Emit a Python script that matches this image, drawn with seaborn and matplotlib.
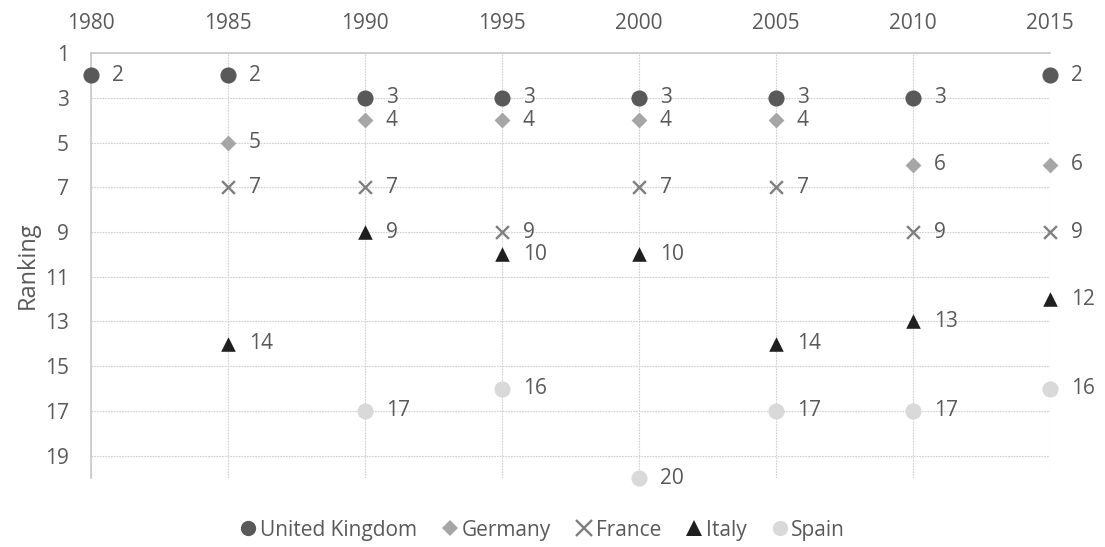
import matplotlib
matplotlib.use("Agg")
import matplotlib.pyplot as plt
import pandas as pd
import seaborn as sns
from matplotlib.lines import Line2D

# data (lower rank = better)
years_uk = [1980, 1985, 1990, 1995, 2000, 2005, 2010, 2015]
rank_uk = [2, 2, 3, 3, 3, 3, 3, 2]
years_de = [1985, 1990, 1995, 2000, 2005, 2010, 2015]
rank_de = [5, 4, 4, 4, 4, 6, 6]
years_fr = [1985, 1990, 1995, 2000, 2005, 2010, 2015]
rank_fr = [7, 7, 9, 7, 7, 9, 9]
years_it = [1985, 1990, 1995, 2000, 2005, 2010, 2015]
rank_it = [14, 9, 10, 10, 14, 13, 12]
years_es = [1990, 1995, 2000, 2005, 2010, 2015]
rank_es = [17, 16, 20, 17, 17, 16]

countries = ["United Kingdom", "Germany", "France", "Italy", "Spain"]
year_ticks = [1980, 1985, 1990, 1995, 2000, 2005, 2010, 2015]
rank_ticks = [1, 3, 5, 7, 9, 11, 13, 15, 17, 19]

colors = {"United Kingdom": "#595959", "Germany": "#a6a6a6", "France": "#7f7f7f",
          "Italy": "#1f1f1f", "Spain": "#d9d9d9"}
markers = {"United Kingdom": "o", "Germany": "D", "France": "x", "Italy": "^", "Spain": "o"}
sizes = {"United Kingdom": 135, "Germany": 65, "France": 85, "Italy": 110, "Spain": 135}

frames = []
for name, yrs, rk in zip(countries,
                         [years_uk, years_de, years_fr, years_it, years_es],
                         [rank_uk, rank_de, rank_fr, rank_it, rank_es]):
    frames.append(pd.DataFrame({"Year": yrs, "Rank": rk, "Country": name}))
df = pd.concat(frames, ignore_index=True)

sns.set_style("white")
plt.rcParams["font.family"] = ["Open Sans", "DejaVu Sans"]
text_color = "#595959"
fs = 15

fig = plt.figure(figsize=(11.05, 5.47), dpi=100)
ax = fig.add_axes([0.0824, 0.126, 0.8676, 0.777])

for name in countries:
    sub = df[df["Country"] == name]
    is_x = markers[name] == "x"
    sns.scatterplot(data=sub, x="Year", y="Rank", ax=ax, color=colors[name],
                    marker=markers[name], s=sizes[name],
                    edgecolor=None if is_x else colors[name],
                    linewidth=1.7 if is_x else 0, clip_on=False, zorder=3, legend=False)
    for _, row in sub.iterrows():
        ax.annotate(str(row["Rank"]), (row["Year"], row["Rank"]), xytext=(15, 0),
                    textcoords="offset points", va="center", ha="left",
                    fontsize=fs, color=text_color, annotation_clip=False)

ax.set_xlim(1980, 2015)
ax.set_ylim(20, 1)
ax.set_xticks(year_ticks)
ax.set_yticks(rank_ticks)
ax.xaxis.tick_top()
ax.tick_params(axis="x", length=0, labelsize=fs, labelcolor=text_color, pad=14)
ax.tick_params(axis="y", length=0, labelsize=fs, labelcolor=text_color, pad=16)
ax.set_xlabel("")
ax.set_ylabel("Ranking", fontsize=17, color=text_color, labelpad=4)

ax.grid(True, color="#d0d0d0", linestyle=(0, (1.5, 1)), linewidth=0.8)
for side in ["right", "bottom"]:
    ax.spines[side].set_visible(False)
for side in ["top", "left"]:
    ax.spines[side].set_color("#c8c8c8")
    ax.spines[side].set_linewidth(1.2)

handles = [Line2D([], [], linestyle="none", marker=markers[c], color=colors[c],
                  markersize=11 if markers[c] != "D" else 8.5,
                  markeredgewidth=1.7 if markers[c] == "x" else 0) for c in countries]
fig.legend(handles, countries, loc="center", bbox_to_anchor=(0.49, 0.031), ncol=5,
           frameon=False, fontsize=fs, labelcolor=text_color, handletextpad=0.05,
           columnspacing=1.1, handlelength=1.0)

fig.savefig("out.png", dpi=100)
